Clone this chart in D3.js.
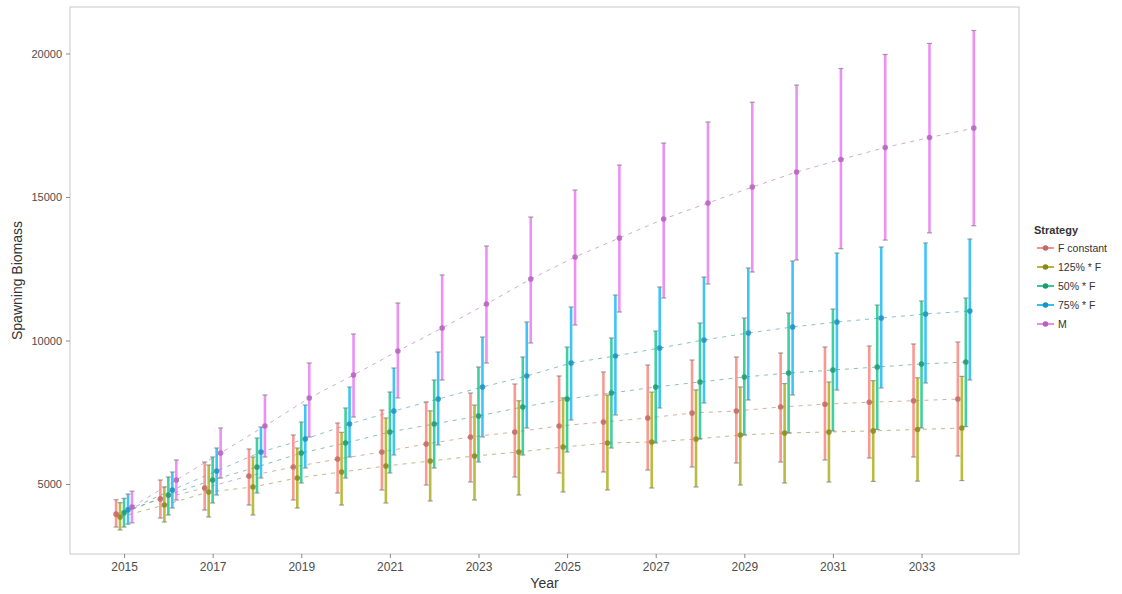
<!DOCTYPE html>
<html>
<head>
<meta charset="utf-8">
<script src="https://cdn.jsdelivr.net/npm/d3@7/dist/d3.min.js"></script>
<style>
  html, body { margin: 0; padding: 0; background: #fff; }
  svg { display: block; font-family: "Liberation Sans", Arial, sans-serif; }
</style>
</head>
<body>
<svg id="chart" width="1122" height="594"></svg>
<script>
// Projection years
const years = d3.range(2015, 2035);

const strategies = ["F constant", "125% * F", "50% * F", "75% * F", "M"];
const colors = ["#F8766D", "#A3A500", "#00BF7D", "#00B0F6", "#E76BF3"];

// Median spawning biomass per strategy
const meanFconst = [3950, 4480, 4860, 5280, 5590, 5870, 6115, 6394, 6637, 6812, 7021, 7160, 7300, 7474, 7543, 7683, 7780, 7850, 7900, 7960];
const mean125 = [3850, 4268, 4721, 4896, 5209, 5418, 5627, 5801, 5975, 6115, 6289, 6428, 6463, 6568, 6707, 6777, 6812, 6850, 6900, 6950];
const mean50 = [4000, 4617, 5139, 5592, 6080, 6428, 6812, 7090, 7369, 7683, 7961, 8170, 8379, 8554, 8728, 8867, 8972, 9076, 9181, 9251];
const mean75 = [4100, 4791, 5453, 6115, 6568, 7090, 7543, 7961, 8379, 8763, 9216, 9460, 9738, 10017, 10261, 10470, 10644, 10783, 10923, 11027];
const meanM = [4200, 5139, 6080, 7021, 7996, 8797, 9634, 10435, 11271, 12142, 12909, 13571, 14233, 14790, 15347, 15870, 16307, 16725, 17073, 17400];

// Lower interval bounds
const lowFconst = [3500, 3815, 4094, 4268, 4443, 4686, 4791, 4965, 5070, 5244, 5383, 5418, 5488, 5592, 5732, 5766, 5836, 5906, 5940, 5975];
const low125 = [3400, 3676, 3850, 3920, 4164, 4268, 4338, 4408, 4443, 4617, 4721, 4791, 4861, 4896, 4965, 5035, 5070, 5090, 5100, 5120];
const low50 = [3500, 3920, 4338, 4686, 5035, 5209, 5383, 5557, 5766, 6010, 6115, 6254, 6428, 6568, 6707, 6777, 6850, 6900, 6950, 7000];
const low75 = [3600, 4164, 4617, 5209, 5557, 5941, 6010, 6359, 6637, 6951, 7230, 7404, 7648, 7822, 7927, 8101, 8275, 8345, 8519, 8623];
const lowM = [3650, 4443, 5209, 5941, 6637, 7334, 8000, 8623, 9216, 9913, 10540, 10993, 11480, 11968, 12386, 12804, 13200, 13500, 13750, 14000];

// Upper interval bounds
const highFconst = [4450, 5139, 5766, 6219, 6707, 7125, 7578, 7857, 8170, 8484, 8763, 8902, 9146, 9320, 9425, 9564, 9773, 9808, 9878, 9947];
const high125 = [4350, 4896, 5662, 5941, 6254, 6800, 7300, 7550, 7750, 7900, 8000, 8100, 8200, 8280, 8380, 8500, 8554, 8600, 8700, 8750];
const high50 = [4500, 5244, 5941, 6603, 7160, 7648, 8205, 8623, 9076, 9425, 9773, 10087, 10330, 10609, 10783, 10958, 11097, 11236, 11376, 11480];
const high75 = [4650, 5418, 6254, 6986, 7752, 8379, 9041, 9599, 10121, 10644, 11167, 11585, 11864, 12212, 12526, 12769, 13048, 13257, 13397, 13536];
const highM = [4750, 5836, 6951, 8101, 9216, 10226, 11306, 12282, 13292, 14302, 15243, 16114, 16880, 17612, 18300, 18900, 19477, 19965, 20350, 20800];

const yTicks = [5000, 10000, 15000, 20000];
const xTicks = [2015, 2017, 2019, 2021, 2023, 2025, 2027, 2029, 2031, 2033];

const means = [meanFconst, mean125, mean50, mean75, meanM];
const lows = [lowFconst, low125, low50, low75, lowM];
const highs = [highFconst, high125, high50, high75, highM];

const series = strategies.map((name, i) => ({
  name, color: colors[i], index: i,
  values: years.map((yr, j) => ({ year: yr, mean: means[i][j], lo: lows[i][j], hi: highs[i][j] }))
}));

const svg = d3.select("#chart");
const panel = { left: 70, right: 1019, top: 7, bottom: 554 };

const x = d3.scaleLinear().domain([2013.78, 2035.2]).range([panel.left, panel.right]);
const y = d3.scaleLinear().domain([2561, 21620]).range([panel.bottom, panel.top]);

// horizontal dodge between strategies (in years)
const dodgeStep = 0.09;
const dx = i => (i - 2) * dodgeStep;

// panel background
svg.append("rect")
  .attr("x", panel.left).attr("y", panel.top)
  .attr("width", panel.right - panel.left).attr("height", panel.bottom - panel.top)
  .attr("fill", "#fff");

const g = svg.append("g");

// dashed trend lines
const line = d3.line().x(d => d.x).y(d => y(d.mean));
series.forEach(s => {
  const pts = s.values.map(v => ({ x: x(v.year + dx(s.index)), mean: v.mean }));
  g.append("path")
    .attr("d", line(pts))
    .attr("fill", "none")
    .attr("stroke", d3.interpolateRgb(s.color, "#777")(0.5))
    .attr("stroke-opacity", 0.6)
    .attr("stroke-width", 1)
    .attr("stroke-dasharray", "4,5");
});

// error bars
series.forEach(s => {
  const sg = g.append("g");
  s.values.forEach(v => {
    const cx = x(v.year + dx(s.index));
    sg.append("line")
      .attr("x1", cx).attr("x2", cx)
      .attr("y1", y(v.lo)).attr("y2", y(v.hi))
      .attr("stroke", s.color).attr("stroke-opacity", 0.75)
      .attr("stroke-width", 2.6);
    [v.lo, v.hi].forEach(b => {
      sg.append("line")
        .attr("x1", cx - 2.5).attr("x2", cx + 2.5)
        .attr("y1", y(b)).attr("y2", y(b))
        .attr("stroke", "#808080").attr("stroke-opacity", 0.75)
        .attr("stroke-width", 1.2);
    });
  });
});

// points
series.forEach(s => {
  g.append("g").selectAll("circle").data(s.values).join("circle")
    .attr("cx", v => x(v.year + dx(s.index)))
    .attr("cy", v => y(v.mean))
    .attr("r", 2.8)
    .attr("fill", d3.interpolateRgb(s.color, "#555")(0.35))
    .attr("fill-opacity", 0.85);
});

// panel border
svg.append("rect")
  .attr("x", panel.left).attr("y", panel.top)
  .attr("width", panel.right - panel.left).attr("height", panel.bottom - panel.top)
  .attr("fill", "none").attr("stroke", "#c8c8c8").attr("stroke-width", 1);

// axes
const xAxis = svg.append("g")
  .attr("transform", `translate(0,${panel.bottom})`)
  .call(d3.axisBottom(x).tickValues(xTicks).tickFormat(d3.format("d")).tickSize(4).tickPadding(4));
const yAxis = svg.append("g")
  .attr("transform", `translate(${panel.left},0)`)
  .call(d3.axisLeft(y).tickValues(yTicks).tickFormat(d3.format("d")).tickSize(4).tickPadding(4));

[xAxis, yAxis].forEach(a => {
  a.select(".domain").remove();
  a.selectAll(".tick line").attr("stroke", "#888");
  a.selectAll(".tick text").attr("fill", "#4d4d4d");
});
xAxis.selectAll(".tick text").attr("font-size", 12);
yAxis.selectAll(".tick text").attr("font-size", 11);

// axis titles
svg.append("text")
  .attr("x", (panel.left + panel.right) / 2).attr("y", 588)
  .attr("text-anchor", "middle").attr("font-size", 14).attr("fill", "#333")
  .text("Year");
svg.append("text")
  .attr("transform", `translate(22,${(panel.top + panel.bottom) / 2}) rotate(-90)`)
  .attr("text-anchor", "middle").attr("font-size", 14).attr("fill", "#333")
  .text("Spawning Biomass");

// legend
const legend = svg.append("g").attr("transform", "translate(1034,230)");
legend.append("text")
  .attr("x", 0).attr("y", 4)
  .attr("font-size", 11).attr("font-weight", "bold").attr("fill", "#333")
  .text("Strategy");
series.forEach((s, i) => {
  const row = legend.append("g").attr("transform", `translate(0,${18 + i * 19})`);
  row.append("line")
    .attr("x1", 3).attr("x2", 20).attr("y1", 0).attr("y2", 0)
    .attr("stroke", s.color).attr("stroke-width", 2).attr("stroke-opacity", 0.8);
  row.append("circle")
    .attr("cx", 11.5).attr("cy", 0).attr("r", 2.8)
    .attr("fill", d3.interpolateRgb(s.color, "#555")(0.35));
  row.append("text")
    .attr("x", 24).attr("y", 4)
    .attr("font-size", 10.5).attr("fill", "#333")
    .text(s.name);
});
</script>
</body>
</html>
